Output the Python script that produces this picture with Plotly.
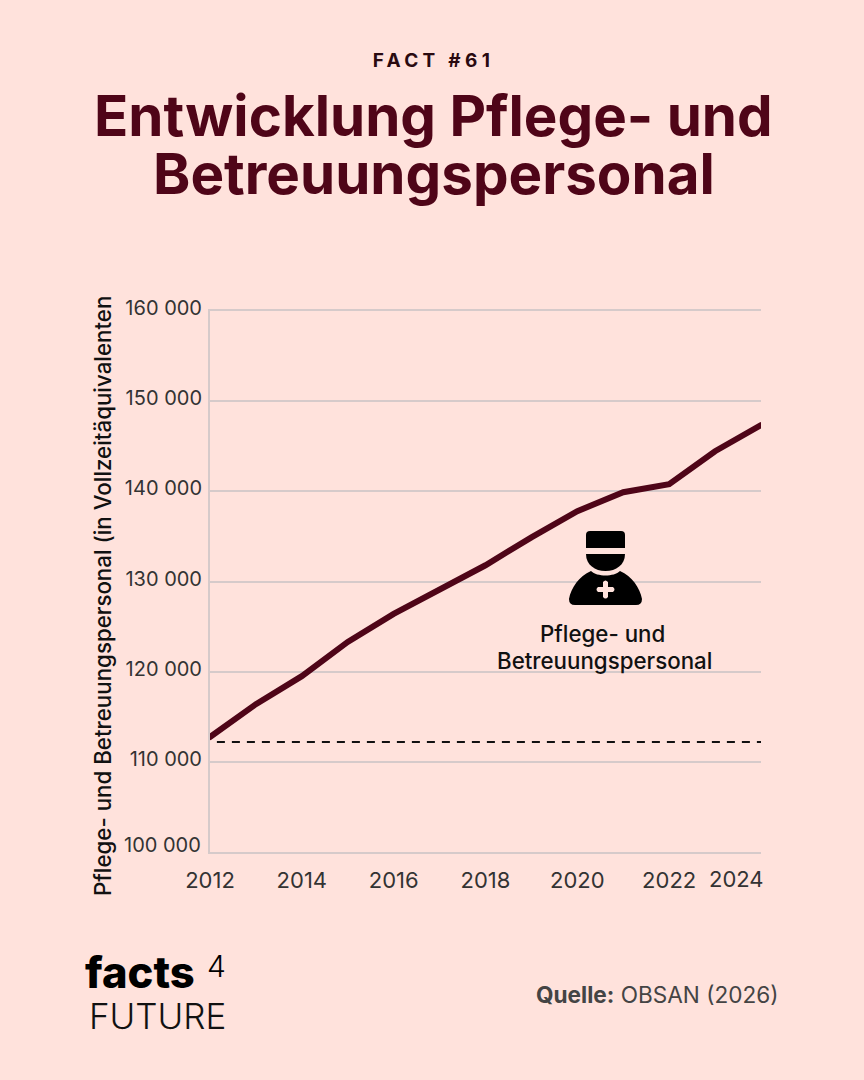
import plotly.graph_objects as go

years = [2012, 2013, 2014, 2015, 2016, 2017, 2018, 2019, 2020, 2021, 2022, 2023, 2024]
staff = [112750, 116400, 119500, 123300, 126400, 129050, 131800, 134900, 137800, 139900, 140800, 144450, 147350]
ref_years = [2012.15, 2024.1]
ref_staff = [112200, 112200]

x_ticks = [2012, 2014, 2016, 2018, 2020, 2022]
x_labels = ['2012', '2014', '2016', '2018', '2020', '2022']
y_ticks = [110000, 120000, 130000, 140000, 150000, 160000]
y_labels = ['110 000', '120 000', '130 000', '140 000', '150 000', '160 000']

W, H = 864, 1080
BG = '#FFE2DC'
WINE = '#4F0518'
GRID = '#D6CACA'
FONT = 'Inter'


def px(x):
    return x / W


def py(y):
    return 1 - y / H


def path(cmds):
    # icon outline given in page pixels, converted to paper coordinates
    out = []
    for c in cmds:
        out.append(c[0] + ' '.join(f'{px(c[i]):.5f},{py(c[i + 1]):.5f}' for i in range(1, len(c), 2)))
    return ' '.join(out) + ' Z'


def note(text, x, y, size, color='#000000', anchor='center', weight=None, angle=0):
    return dict(text=text, x=px(x), y=py(y), xref='paper', yref='paper', showarrow=False,
                xanchor=anchor, yanchor='middle', textangle=angle,
                font=dict(family=FONT, size=size, color=color, weight=weight))


fig = go.Figure()
fig.add_trace(go.Scatter(x=ref_years, y=ref_staff, mode='lines', cliponaxis=False,
                         line=dict(color='#111111', width=2, dash='8px,7px')))
fig.add_trace(go.Scatter(x=years, y=staff, mode='lines', cliponaxis=False,
                         line=dict(color=WINE, width=6)))

icon = [
    # cap
    (path([('M', 590, 531), ('L', 621, 531), ('Q', 625, 531, 625, 535), ('L', 625, 548), ('L', 586, 548),
           ('L', 586, 535), ('Q', 586, 531, 590, 531)]), '#000000'),
    # face
    (path([('M', 586, 554), ('L', 625, 554), ('C', 625, 565, 616, 571, 605.5, 571),
           ('C', 595, 571, 586, 565, 586, 554)]), '#000000'),
    # shoulders
    (path([('M', 591, 571), ('C', 597, 577, 614, 577, 620, 571), ('C', 632, 576, 640, 588, 642, 599),
           ('Q', 642, 605, 636, 605), ('L', 575, 605), ('Q', 569, 605, 569, 599),
           ('C', 571, 588, 579, 576, 591, 571)]), '#000000'),
    # cross, rounded arms
    (path([('M', 603, 582), ('Q', 605.5, 579, 608, 582), ('L', 608, 587), ('L', 613, 587), ('Q', 616, 589.5, 613, 592),
           ('L', 608, 592), ('L', 608, 597), ('Q', 605.5, 600, 603, 597), ('L', 603, 592), ('L', 598, 592),
           ('Q', 595, 589.5, 598, 587), ('L', 603, 587), ('L', 603, 582)]), BG),
]

fig.update_layout(
    width=W, height=H, margin=dict(l=0, r=0, t=0, b=0, autoexpand=False),
    paper_bgcolor=BG, plot_bgcolor=BG, showlegend=False,
    shapes=[dict(type='path', path=p, xref='paper', yref='paper', fillcolor=c, line=dict(width=0)) for p, c in icon],
    annotations=[
        note('FACT #61', 433.5, 61, 19, '#2A0A10', weight=700),
        note('Entwicklung Pflege- und', 433.5, 116, 56.5, WINE, weight=700),
        note('Betreuungspersonal', 433.5, 174, 56.5, WINE, weight=700),
        note('Pflege- und Betreuungspersonal (in Vollzeitäquivalenten', 102, 596, 22.3, '#111111', weight=500, angle=-90),
        note('100 000', 203, 845, 20, '#333333', anchor='right'),
        note('2024', 766, 879, 22, '#333333', anchor='right'),
        note('Pflege- und', 602, 633, 22.3, '#111111', weight=500),
        note('Betreuungspersonal', 604.5, 660, 22.3, '#111111', weight=500),
        note('facts', 83, 972, 43.5, '#000000', anchor='left', weight=800),
        note('4', 204.5, 966, 30, '#000000', anchor='left', weight=300),
        note('FUTURE', 86.5, 1016, 35, '#111111', anchor='left', weight=300),
        note('<b>Quelle:</b> OBSAN (2026)', 781, 994, 22.6, '#444444', anchor='right'),
    ],
)
fig.update_xaxes(domain=[px(210), px(761)], range=[2012, 2024], tickmode='array', tickvals=x_ticks, ticktext=x_labels,
                 showgrid=False, zeroline=False, showline=True, mirror=True, linecolor=GRID, linewidth=2, ticks='',
                 ticklabelstandoff=8, tickfont=dict(family=FONT, size=22, color='#333333'))
fig.update_yaxes(domain=[py(852), py(311)], range=[100000, 160000], tickmode='array', tickvals=y_ticks, ticktext=y_labels,
                 showgrid=True, gridcolor=GRID, gridwidth=1.5, zeroline=False, showline=True, linecolor=GRID, linewidth=2,
                 ticks='', ticklabelstandoff=2, ticklabelshift=-3, tickfont=dict(family=FONT, size=20, color='#333333'))

# letter spacing and round line ends have no plotly attribute
finish = """
document.body.style.margin = '0';
document.querySelectorAll('.annotation-text').forEach(function (t) {
  if (t.textContent === 'FACT #61') { t.style.letterSpacing = '4.3px'; }
});
var lines = document.querySelectorAll('.scatterlayer .js-line');
lines[lines.length - 1].style.strokeLinecap = 'round';
"""
fig.write_html("out.html", post_script=finish, config=dict(displayModeBar=False))
